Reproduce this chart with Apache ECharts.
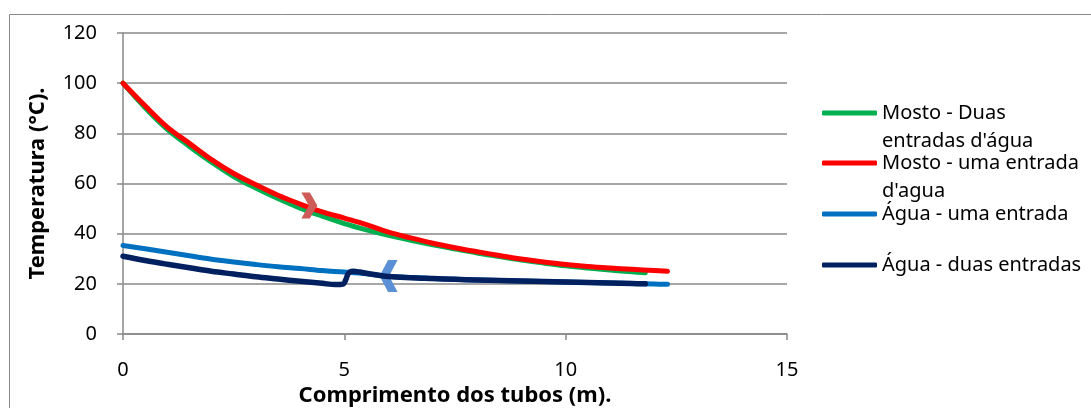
<!DOCTYPE html>
<html>
<head>
<meta charset="utf-8">
<script src="https://cdn.jsdelivr.net/npm/echarts@6/dist/echarts.min.js"></script>
<style>
  html, body { margin: 0; padding: 0; background: #ffffff; }
  #chart { width: 1091px; height: 408px; }
</style>
</head>
<body>
<div id="chart"></div>
<script>
// ---- Data ----
const seriesNames = ["Mosto - Duas entradas d'água", "Mosto - uma entrada d'agua", "Água - uma entrada", "Água - duas entradas"];
const legendLabels = ["Mosto - Duas\nentradas d'água", "Mosto - uma entrada\nd'agua", "Água - uma entrada", "Água - duas entradas"];

const xTicks = [0, 5, 10, 15];
const yTicks = [0, 20, 40, 60, 80, 100, 120];

const mostoDuasX = [0, 0.5, 1, 1.5, 2, 2.5, 3, 3.5, 4, 4.5, 5, 5.5, 6, 6.5, 7, 7.5, 8, 8.5, 9, 9.5, 10, 10.5, 11, 11.5, 11.8];
const mostoDuasY = [100, 90.2, 81.6, 74.8, 68.5, 62.8, 58.2, 54, 50.2, 47, 44, 41.5, 39.3, 37.4, 35.6, 33.9, 32.3, 30.9, 29.5, 28.3, 27.2, 26.3, 25.5, 24.8, 24.4];

const mostoUmaX = [0, 0.5, 1, 1.5, 2, 2.5, 3, 3.5, 4, 4.5, 5, 5.5, 6, 6.5, 7, 7.5, 8, 8.5, 9, 9.5, 10, 10.5, 11, 11.5, 12, 12.3];
const mostoUmaY = [100, 91, 82.5, 76, 69.5, 64, 59.5, 55.3, 51.8, 48.7, 46.2, 43.6, 40.6, 38.3, 36.2, 34.4, 32.8, 31.3, 29.9, 28.7, 27.7, 26.9, 26.3, 25.8, 25.3, 25.0];

const aguaUmaX = [0, 0.5, 1, 1.5, 2, 2.5, 3, 3.5, 4, 4.5, 5, 5.5, 6, 6.5, 7, 7.5, 8, 8.5, 9, 9.5, 10, 10.5, 11, 11.5, 12, 12.3];
const aguaUmaY = [35.3, 34, 32.6, 31.2, 29.8, 28.7, 27.7, 26.8, 26.1, 25.3, 24.7, 24.0, 23.0, 22.5, 22.1, 21.8, 21.5, 21.3, 21.1, 20.9, 20.7, 20.5, 20.3, 20.1, 19.9, 19.8];

const aguaDuasX = [0, 0.5, 1, 1.5, 2, 2.5, 3, 3.5, 4, 4.5, 4.8, 4.97, 5.03, 5.08, 5.13, 5.2, 5.35, 5.5, 6, 6.5, 7, 7.5, 8, 8.5, 9, 9.5, 10, 10.5, 11, 11.5, 11.8];
const aguaDuasY = [31, 29.3, 27.8, 26.4, 25, 23.9, 22.8, 21.9, 21, 20.2, 19.7, 19.9, 21.5, 23.8, 24.8, 25, 24.7, 24.2, 22.9, 22.4, 22.1, 21.8, 21.5, 21.3, 21.1, 20.9, 20.7, 20.5, 20.3, 20.1, 20.0];

// flow-direction arrow markers (data coordinates)
const arrowMosto = [4.21, 51.2];
const arrowAgua = [6.0, 23.1];

// ---- Build ----
const colors = ['#00b050', '#ff0000', '#0070c0', '#002060'];
const FONT = 'Noto Sans';
function pairs(xs, ys) { return xs.map((x, i) => [x, ys[i]]); }
const seriesData = [
  pairs(mostoDuasX, mostoDuasY),
  pairs(mostoUmaX, mostoUmaY),
  pairs(aguaUmaX, aguaUmaY),
  pairs(aguaDuasX, aguaDuasY)
];

const chevronRight = 'path://M0,0 L9,0 L17,13 L9,26 L0,26 L8,13 Z';
const chevronLeft = 'path://M17,0 L8,0 L0,13 L8,26 L17,26 L9,13 Z';

const series = seriesData.map((d, i) => ({
  name: seriesNames[i],
  type: 'line',
  data: d,
  symbol: 'none',
  showSymbol: false,
  smooth: 0.35,
  z: 2 + i,
  lineStyle: { color: colors[i], width: i === 3 ? 5.5 : 5, cap: 'round', join: 'round' },
  itemStyle: { color: colors[i] },
  emphasis: { disabled: true }
}));
series[1].markPoint = {
  silent: true,
  label: { show: false },
  data: [{ coord: arrowMosto, symbol: chevronRight, symbolSize: [16, 26], itemStyle: { color: '#cd5b57' } }]
};
series[3].markPoint = {
  silent: true,
  label: { show: false },
  data: [{ coord: arrowAgua, symbol: chevronLeft, symbolSize: [18, 32], itemStyle: { color: '#5b8fd6' } }]
};

const legendTops = [71, 121, 200, 251];
const legends = seriesNames.map((n, i) => ({
  data: [{ name: n, icon: 'roundRect' }],
  left: 822,
  top: legendTops[i],
  padding: 0,
  orient: 'vertical',
  itemWidth: 55,
  itemHeight: 5,
  itemGap: 0,
  selectedMode: false,
  itemStyle: { color: colors[i], borderWidth: 0 },
  formatter: () => (legendLabels[i].indexOf('\n') >= 0 ? '\n' + legendLabels[i] : legendLabels[i]),
  textStyle: { fontFamily: FONT, fontSize: 20, color: '#000', lineHeight: 28 }
}));

const axisGray = '#898989';
const option = {
  backgroundColor: '#ffffff',
  animation: false,
  color: colors,
  graphic: [{
    type: 'rect',
    silent: true,
    shape: { x: 9.5, y: 14.5, width: 1200, height: 500 },
    style: { fill: 'none', stroke: '#898989', lineWidth: 1 }
  }],
  legend: legends,
  grid: { left: 123, top: 33, right: 304, bottom: 74, containLabel: false, outerBoundsMode: 'none' },
  xAxis: {
    type: 'value',
    min: xTicks[0],
    max: xTicks[xTicks.length - 1],
    interval: xTicks[1] - xTicks[0],
    name: 'Comprimento dos tubos (m).',
    nameLocation: 'middle',
    nameGap: 50,
    nameTextStyle: { fontFamily: FONT, fontSize: 22, fontWeight: 'bold', color: '#000' },
    axisLine: { show: true, onZero: false, lineStyle: { color: axisGray, width: 1.5 } },
    axisTick: { show: true, length: 6, lineStyle: { color: axisGray, width: 1.5 } },
    axisLabel: { margin: 26, fontFamily: FONT, fontSize: 20, color: '#000' },
    splitLine: { show: false }
  },
  yAxis: {
    type: 'value',
    min: yTicks[0],
    max: yTicks[yTicks.length - 1],
    interval: yTicks[1] - yTicks[0],
    name: 'Temperatura (°C).',
    nameLocation: 'middle',
    nameGap: 74,
    nameTextStyle: { fontFamily: FONT, fontSize: 22, fontWeight: 'bold', color: '#000' },
    axisLine: { show: true, lineStyle: { color: axisGray, width: 1.5 } },
    axisTick: { show: true, length: 6, lineStyle: { color: axisGray, width: 1.5 } },
    axisLabel: { margin: 26, fontFamily: FONT, fontSize: 20, color: '#000' },
    splitLine: { show: true, lineStyle: { color: axisGray, width: 1.5 } }
  },
  series: series
};

const chart = echarts.init(document.getElementById('chart'), null, { renderer: 'canvas' });
chart.setOption(option);
</script>
</body>
</html>
